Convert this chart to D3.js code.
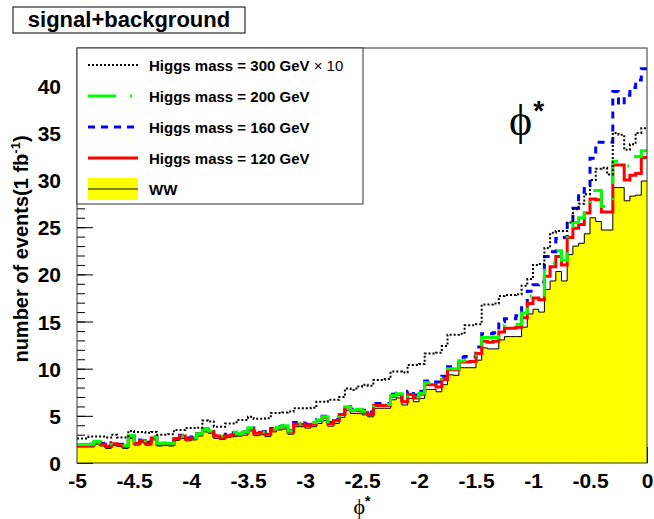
<!DOCTYPE html>
<html>
<head>
<meta charset="utf-8">
<script src="https://cdn.jsdelivr.net/npm/d3@7"></script>
<style>
  body { margin: 0; background: #fff; }
  svg { display: block; }
</style>
</head>
<body>
<script>
// phi* histograms: 100 bins from -5 to 0, events per bin for 1 fb^-1
const xMin = -5, xMax = 0, nBins = 100;
const yTop = 44;

// WW background
const ww = [
  1.7,1.7,1.7,2.0,1.8,1.55,1.85,1.75,1.55,2.6,
  1.9,2.15,1.9,2.45,1.8,1.85,1.8,2.4,2.6,2.35,
  2.45,2.85,3.3,3.15,2.6,2.5,2.7,2.8,2.85,2.95,
  3.4,2.9,3.0,2.8,3.3,3.5,3.6,3.05,3.85,3.85,
  3.7,3.85,4.2,4.5,3.9,4.2,4.85,5.6,5.25,5.25,
  5.1,4.9,5.8,5.8,5.8,6.7,6.9,6.15,6.85,6.5,
  6.85,7.8,7.8,7.55,8.3,9.35,9.3,10.1,10.1,10.1,
  10.9,12.2,12.1,12.1,13.05,13.4,13.4,13.4,14.4,15.8,
  16.3,16.0,18.4,19.3,20.3,19.3,22.1,23.0,23.3,24.3,
  26.0,25.6,24.7,24.7,29.2,29.2,27.8,28.3,28.4,29.9
];

// signal + WW, Higgs mass = 120 GeV
const mh120 = [
  1.85,1.85,1.9,2.2,2.0,1.75,2.05,1.9,1.75,2.8,
  2.1,2.35,2.05,2.65,1.95,2.0,2.0,2.6,2.85,2.55,
  2.65,3.05,3.5,3.35,2.85,2.7,2.9,3.0,3.05,3.2,
  3.6,3.15,3.25,3.05,3.55,3.7,3.85,3.3,4.1,4.1,
  3.95,4.1,4.5,4.8,4.15,4.5,5.15,5.9,5.55,5.55,
  5.35,5.15,6.1,6.1,6.1,7.05,7.25,6.5,7.25,6.9,
  7.3,8.3,8.3,8.05,8.85,9.9,9.9,10.7,10.7,10.75,
  11.6,12.9,12.8,12.9,13.9,14.3,14.3,14.4,15.4,16.9,
  17.5,17.3,19.8,20.8,21.9,21.0,23.9,24.9,25.3,26.5,
  28.0,27.9,26.6,26.6,31.6,31.6,30.0,30.5,30.7,32.4
];

// signal + WW, Higgs mass = 160 GeV
const mh160 = [
  1.9,1.9,2.0,2.25,2.1,1.8,2.15,2.0,1.8,2.85,
  2.2,2.45,2.2,2.75,2.05,2.1,2.05,2.7,2.95,2.65,
  2.75,3.1,3.6,3.4,2.9,2.8,3.05,3.2,3.15,3.3,
  3.7,3.35,3.35,3.1,3.65,3.85,3.95,3.45,4.3,4.25,
  4.1,4.3,4.6,4.95,4.3,4.65,5.3,6.0,5.7,5.65,
  5.6,5.4,6.3,6.3,6.3,7.3,7.4,6.7,7.6,7.2,
  7.6,8.7,8.6,8.6,9.2,10.2,10.3,11.2,11.3,11.3,
  12.3,13.7,13.7,13.8,15.0,15.3,15.3,15.6,16.8,18.2,
  18.9,19.2,21.9,22.4,23.8,23.9,25.4,27.0,28.7,29.4,
  32.3,34.0,34.0,34.0,39.4,38.0,39.0,39.8,40.6,41.8
];

// signal + WW, Higgs mass = 200 GeV
const mh200 = [
  1.95,1.95,2.0,2.3,2.1,1.85,2.1,2.0,1.85,2.9,
  2.2,2.45,2.15,2.75,2.1,2.1,2.1,2.7,2.9,2.6,
  2.7,3.1,3.55,3.4,2.95,2.85,3.0,3.3,3.1,3.3,
  3.75,3.4,3.3,3.15,3.6,3.8,3.95,3.4,4.2,4.2,
  4.1,4.3,4.55,4.9,4.35,4.6,5.2,5.95,5.6,5.7,
  5.5,5.35,6.15,6.15,6.2,7.15,7.35,6.6,7.35,7.0,
  7.4,8.5,8.5,8.5,9.0,10.0,10.0,10.85,10.85,10.85,
  11.9,13.3,13.3,13.3,14.6,14.7,14.6,14.7,15.9,17.7,
  17.9,17.8,21.0,21.2,22.5,21.5,24.8,25.5,26.0,27.4,
  28.9,28.9,27.2,27.2,32.0,31.5,31.5,31.5,32.5,33.1
];

// signal x 10 + WW, Higgs mass = 300 GeV
const mh300x10 = [
  2.6,2.6,2.8,2.8,2.8,2.7,3.0,2.7,2.7,3.4,
  3.3,3.3,3.2,3.3,3.0,3.0,3.05,3.5,3.5,3.7,
  3.7,3.75,4.5,4.4,3.85,3.85,4.2,4.2,4.55,4.55,
  4.9,4.7,4.7,4.75,5.3,5.3,5.35,5.45,5.8,5.8,
  5.8,5.85,6.5,6.5,6.7,6.7,7.0,7.9,7.75,8.1,
  8.3,8.2,8.8,8.8,8.9,9.7,9.7,9.6,10.4,10.4,
  10.5,11.6,11.6,11.7,12.4,13.6,13.6,13.7,14.6,14.6,
  14.7,16.8,16.8,16.9,17.7,17.8,17.8,17.9,18.8,19.5,
  21.0,21.1,22.8,24.4,24.6,24.6,25.5,26.9,27.5,28.5,
  30.0,31.2,31.3,30.6,35.0,34.8,33.2,33.8,35.0,35.5
];

const xTicks = [-5, -4.5, -4, -3.5, -3, -2.5, -2, -1.5, -1, -0.5, 0];
const yTicks = [0, 5, 10, 15, 20, 25, 30, 35, 40];

const legendEntries = [
  { label: "Higgs mass = 300 GeV", extra: " \u00d7 10", key: "mh300" },
  { label: "Higgs mass = 200 GeV", key: "mh200" },
  { label: "Higgs mass = 160 GeV", key: "mh160" },
  { label: "Higgs mass = 120 GeV", key: "mh120" },
  { label: "WW", key: "ww" }
];

const styles = {
  mh300: { stroke: "#000", width: 2, dash: "2,2" },
  mh200: { stroke: "#00ff00", width: 3, dash: "28,14,2,14" },
  mh160: { stroke: "#0000ff", width: 3, dash: "7,6" },
  mh120: { stroke: "#ff0000", width: 3, dash: null },
  ww:    { stroke: "#000", width: 1, dash: null, fill: "#ffff00" }
};

const W = 654, H = 519;
const frame = { left: 77, right: 647, top: 48, bottom: 463 };
const sansBold = "'Liberation Sans', Arial, Helvetica, sans-serif";
const serif = "'Liberation Serif', 'DejaVu Serif', 'Times New Roman', serif";

const svg = d3.select("body").append("svg")
  .attr("width", W).attr("height", H)
  .attr("viewBox", `0 0 ${W} ${H}`);

const x = d3.scaleLinear().domain([xMin, xMax]).range([frame.left, frame.right]);
const y = d3.scaleLinear().domain([0, yTop]).range([frame.bottom, frame.top]);

const binW = (xMax - xMin) / nBins;
const edges = d3.range(nBins + 1).map(i => xMin + i * binW);

// step outline: every bin contributes its low and high edge at its content
function steps(values) {
  const pts = [];
  values.forEach((v, i) => { pts.push([edges[i], v]); pts.push([edges[i + 1], v]); });
  return pts;
}

// axes (ticks point into the frame)
const yMajor = d3.axisLeft(y).tickValues(yTicks).tickSize(-16).tickFormat(d => String(d));
const yMinor = d3.axisLeft(y).tickValues(d3.range(0, 44, 1)).tickSize(-8).tickFormat("");
const xMajor = d3.axisBottom(x).tickValues(xTicks).tickSize(-16).tickFormat(d => String(d));

svg.append("g").attr("transform", `translate(${frame.left},0)`).call(yMinor)
  .call(g => g.select(".domain").remove())
  .call(g => g.selectAll("line").attr("stroke", "#000").attr("stroke-width", 1));

const gy = svg.append("g").attr("transform", `translate(${frame.left},0)`).call(yMajor);
gy.select(".domain").remove();
gy.selectAll("line").attr("stroke", "#000").attr("stroke-width", 1);
gy.selectAll("text")
  .attr("x", -16).attr("dy", "0.36em")
  .style("font-family", sansBold).style("font-weight", "bold").style("font-size", "21px")
  .attr("fill", "#000");

const gx = svg.append("g").attr("transform", `translate(0,${frame.bottom})`).call(xMajor);
gx.select(".domain").remove();
gx.selectAll("line").attr("stroke", "#000").attr("stroke-width", 1);
gx.selectAll("text")
  .attr("y", 25).attr("dy", 0)
  .style("font-family", sansBold).style("font-weight", "bold").style("font-size", "21px")
  .attr("fill", "#000");

// histograms
const plot = svg.append("g");
const area = d3.area().x(d => x(d[0])).y0(y(0)).y1(d => y(d[1]));
const line = d3.line().x(d => x(d[0])).y(d => y(d[1]));

plot.append("path").attr("d", area(steps(ww))).attr("fill", styles.ww.fill).attr("stroke", "none");
plot.append("path").attr("d", line(steps(ww)))
  .attr("fill", "none").attr("stroke", styles.ww.stroke).attr("stroke-width", styles.ww.width);

const drawn = [
  { key: "mh160", values: mh160 },
  { key: "mh120", values: mh120 },
  { key: "mh200", values: mh200 },
  { key: "mh300", values: mh300x10 }
];
drawn.forEach(s => {
  const st = styles[s.key];
  plot.append("path").attr("d", line(steps(s.values)))
    .attr("fill", "none").attr("stroke", st.stroke).attr("stroke-width", st.width)
    .attr("stroke-dasharray", st.dash).attr("stroke-linejoin", "miter");
});

// frame
svg.append("rect")
  .attr("x", frame.left).attr("y", frame.top)
  .attr("width", frame.right - frame.left).attr("height", frame.bottom - frame.top)
  .attr("fill", "none").attr("stroke", "#333").attr("stroke-width", 1);

// legend
const leg = svg.append("g");
const legBox = { x0: 77, x1: 363, y0: 48, y1: 204 };
leg.append("rect")
  .attr("x", legBox.x0).attr("y", legBox.y0)
  .attr("width", legBox.x1 - legBox.x0).attr("height", legBox.y1 - legBox.y0)
  .attr("fill", "#fff").attr("stroke", "#333").attr("stroke-width", 1);

const rowY = d3.scalePoint().domain(legendEntries.map(e => e.key)).range([65, 189]);
legendEntries.forEach(e => {
  const st = styles[e.key];
  const cy = rowY(e.key);
  if (e.key === "ww") {
    leg.append("rect").attr("x", 88).attr("y", cy - 11).attr("width", 50).attr("height", 22)
      .attr("fill", st.fill);
  }
  leg.append("line").attr("x1", 88).attr("x2", 138).attr("y1", cy).attr("y2", cy)
    .attr("stroke", st.stroke).attr("stroke-width", st.width).attr("stroke-dasharray", st.dash);
  const t = leg.append("text").attr("x", 149).attr("y", cy + 5.5)
    .style("font-family", sansBold).style("font-weight", "bold").style("font-size", "15px")
    .text(e.label);
  if (e.extra) t.append("tspan").style("font-weight", "normal").text(e.extra);
});

// title box
svg.append("rect").attr("x", 13).attr("y", 7).attr("width", 232).attr("height", 26)
  .attr("fill", "#fff").attr("stroke", "#000").attr("stroke-width", 1);
svg.append("text").attr("x", 129).attr("y", 27).attr("text-anchor", "middle")
  .style("font-family", sansBold).style("font-weight", "bold").style("font-size", "22px")
  .text("signal+background");

// axis titles
const xt = svg.append("text").attr("x", (frame.left + frame.right) / 2).attr("y", 514)
  .attr("text-anchor", "middle").style("font-family", serif).style("font-size", "22px");
xt.append("tspan").text("\u03d5");
xt.append("tspan").attr("dy", -8).style("font-family", sansBold).style("font-weight", "bold")
  .style("font-size", "14px").text("*");

const yt = svg.append("text")
  .attr("transform", `translate(28,249) rotate(-90)`)
  .attr("text-anchor", "middle")
  .style("font-family", sansBold).style("font-weight", "bold").style("font-size", "20px");
yt.append("tspan").text("number of events(1 fb");
yt.append("tspan").attr("dy", -8).style("font-size", "13px").text("-1");
yt.append("tspan").attr("dy", 8).text(")");

// in-frame label
const lab = svg.append("text").attr("x", 509).attr("y", 135).style("font-family", serif)
  .style("font-size", "44px");
lab.append("tspan").text("\u03d5");
lab.append("tspan").attr("dx", 1).attr("dy", -15).style("font-family", sansBold).style("font-weight", "bold")
  .style("font-size", "28px").text("*");
</script>
</body>
</html>
